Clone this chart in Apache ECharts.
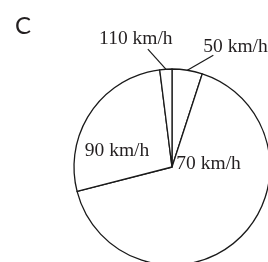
<!DOCTYPE html>
<html>
<head>
<meta charset="utf-8">
<style>
html,body{margin:0;padding:0;background:#fff;}
#chart{width:268px;height:262px;}
</style>
<script src="https://cdn.jsdelivr.net/npm/echarts@6/dist/echarts.min.js"></script>
</head>
<body>
<div id="chart"></div>
<script>
// Data
var panelLabel = 'C';
var categories = ['50 km/h', '70 km/h', '90 km/h', '110 km/h'];
var values = [5, 66, 27, 2];

// Label styling (offsets relative to library-computed anchors)
var labelPlacement = {
  '50 km/h':  { mode: 'outside', lineEnd: [26, -15], text: [16, -23], align: 'left' },
  '70 km/h':  { mode: 'inside', d: [1, -41] },
  '90 km/h':  { mode: 'inside', d: [-12, 13] },
  '110 km/h': { mode: 'outside', lineEnd: [-18, -20], text: [-30, -30], align: 'center' }
};

var chart = echarts.init(document.getElementById('chart'), null, {renderer: 'canvas'});
var data = categories.map(function (c, i) {
  var p = labelPlacement[c];
  return {
    name: c,
    value: values[i],
    label: { position: p.mode },
    labelLine: { show: p.mode === 'outside' }
  };
});

chart.setOption({
  animation: false,
  backgroundColor: '#ffffff',
  title: {
    text: panelLabel,
    left: 10,
    top: 9,
    textStyle: { fontFamily: 'Lato', fontSize: 24, fontWeight: 'normal', color: '#231f20' }
  },
  series: [{
    type: 'pie',
    center: [172, 167],
    radius: 98,
    startAngle: 90,
    clockwise: true,
    avoidLabelOverlap: false,
    silent: true,
    data: data,
    itemStyle: { color: '#ffffff', borderColor: '#1a1a1a', borderWidth: 1.3 },
    label: {
      show: true,
      formatter: '{b}',
      fontFamily: 'Liberation Serif',
      fontSize: 19.5,
      color: '#231f20'
    },
    labelLine: {
      length: 10,
      length2: 10,
      lineStyle: { color: '#1a1a1a', width: 1.2 }
    },
    labelLayout: function (params) {
      var name = categories[params.dataIndex];
      var p = labelPlacement[name];
      if (p.mode === 'inside') {
        return { dx: p.d[0], dy: p.d[1] };
      }
      var pts = params.labelLinePoints;
      if (!pts) return {};
      var s = pts[0];
      var e = [s[0] + p.lineEnd[0], s[1] + p.lineEnd[1]];
      return {
        x: s[0] + p.text[0],
        y: s[1] + p.text[1],
        align: p.align,
        verticalAlign: 'middle',
        labelLinePoints: [s, e, e]
      };
    }
  }]
});
</script>
</body>
</html>
